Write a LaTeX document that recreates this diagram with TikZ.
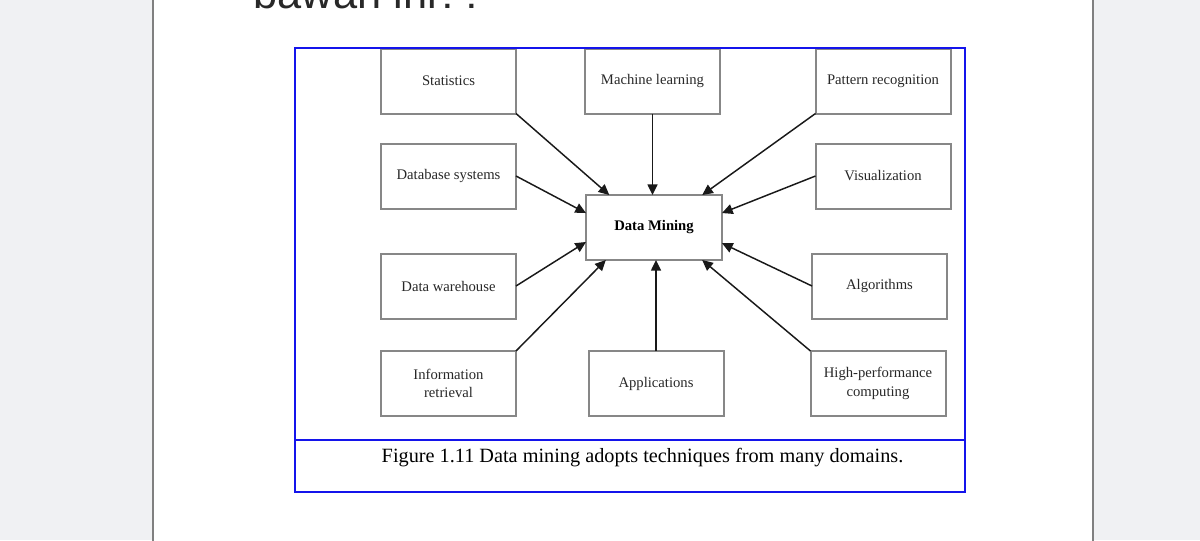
\documentclass[tikz,border=0pt]{standalone}
\usepackage{fontspec}
\setmainfont{Liberation Serif}
\newfontfamily\chatfont{Liberation Sans}
\usetikzlibrary{arrows.meta}
\definecolor{pagebg}{RGB}{240,241,243}
\definecolor{boxgray}{RGB}{135,135,135}
\definecolor{frameblue}{RGB}{20,20,235}
\definecolor{inkgray}{RGB}{40,40,40}

\begin{document}
\begin{tikzpicture}[x=0.75pt,y=-0.75pt,->,>={Triangle[length=8pt,width=7.5pt]},
  line width=1.1pt,
  every edge/.style={draw,black!90},
  areabox/.style={draw=boxgray,line width=1.5pt,fill=white,shape=rectangle,
                 minimum width=101.25pt,minimum height=48.75pt,outer sep=0pt,
                 align=center,text=inkgray,font=\fontsize{11}{14}\selectfont},
  corebox/.style={areabox,minimum width=102pt,text=black,
               font=\fontsize{11}{14}\selectfont\bfseries}]

 \useasboundingbox (0,0) rectangle (1200,540);
 \fill[pagebg] (0,0) rectangle (1200,540);
 \clip (0,0) rectangle (1200,540);
 \fill[white] (153,-2) rectangle (1093,542);
 \draw[-,line width=0.8pt,gray] (153,-2) -- (153,542) (1093,-2) -- (1093,542);
 \node[anchor=base west,inner sep=0pt,text=inkgray,
       font=\chatfont\fontsize{32.5}{33}\selectfont] (question) at (253,8) {bawah ini??};

 % the domains around data mining
 \node[areabox] (stat) at (448.5,81) {Statistics};
 \node[areabox] (ml) at (652.5,81) {Machine learning};
 \node[areabox] (pr) at (883,81) {Pattern recognition};
 \node[areabox] (db) at (448.5,176) {Database systems};
 \node[areabox] (vis) at (883,176) {Visualization};
 \node[corebox] (dm) at (654,227.5) {Data Mining};
 \node[areabox] (dw) at (448.5,286) {Data warehouse};
 \node[areabox] (alg) at (879.5,286) {Algorithms};
 \node[areabox] (ir) at (448.5,383.5) {Information\\retrieval};
 \node[areabox] (app) at (656,383.5) {Applications};
 \node[areabox] (hpc) at (878,383.5) {High-performance\\computing};

 \path
  (stat.south east) edge (dm.144)
  (ml.south) edge (ml.south |- dm.north)
  (pr.south west) edge (dm.34)
  (db.east) edge (dm.168)
  (vis.west) edge (dm.12)
  (dw.east) edge (dm.192)
  (alg.west) edge (dm.347)
  (ir.north east) edge (dm.214)
  (app.north) edge (app.north |- dm.south)
  (hpc.north west) edge (dm.326);

 % figure frame and caption
 \draw[-,frameblue,line width=1.2pt] (295,48) rectangle (965,492);
 \draw[-,frameblue,line width=1.2pt] (295,440) -- (965,440);
 \node[anchor=base west,inner sep=0pt,font=\fontsize{15.2}{18}\selectfont] (caption)
   at (381,462) {Figure 1.11 Data mining adopts techniques from many domains.};
\end{tikzpicture}
\end{document}
